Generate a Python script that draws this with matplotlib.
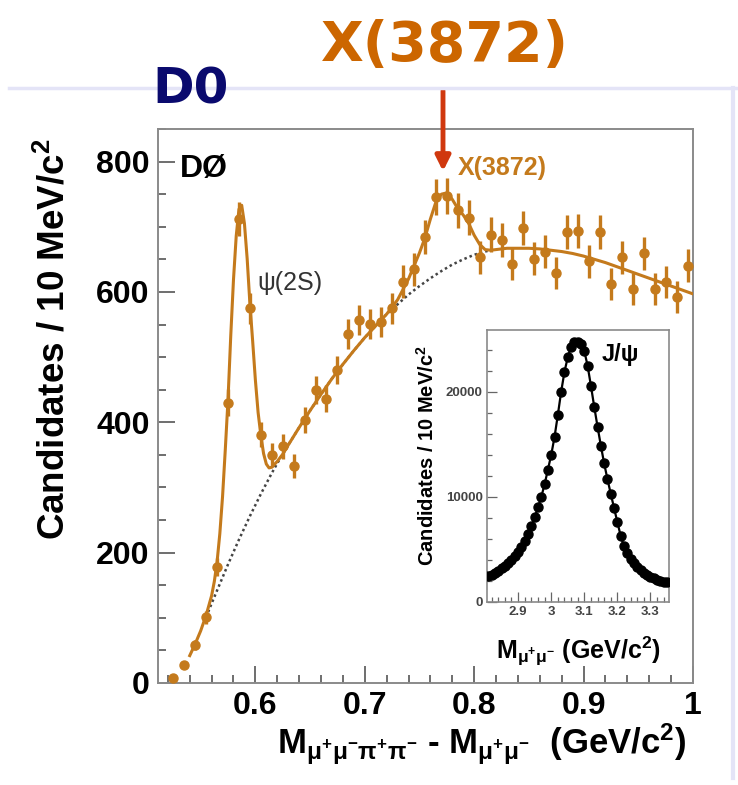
import numpy as np
import matplotlib
matplotlib.use("Agg")
import matplotlib.pyplot as plt
from matplotlib.ticker import MultipleLocator, FixedLocator
from matplotlib.patches import FancyArrowPatch
from matplotlib.lines import Line2D

plt.rcParams['font.family'] = ['Liberation Sans', 'DejaVu Sans']
plt.rcParams['mathtext.fontset'] = 'custom'
plt.rcParams['mathtext.rm'] = 'Liberation Sans'
plt.rcParams['mathtext.it'] = 'Liberation Sans:italic'
plt.rcParams['mathtext.bf'] = 'Liberation Sans:bold'
plt.rcParams['mathtext.default'] = 'regular'

# ---- main spectrum: M(mu mu pi pi) - M(mu mu), 10 MeV bins ----
bin_centers = np.round(np.arange(0.525, 1.0, 0.01), 3)
counts = [7, 28, 59, 101, 178, 430, 712, 575, 381, 350, 363, 333, 404, 450,
          436, 480, 536, 557, 551, 554, 575, 616, 635, 684, 746, 747, 725,
          714, 653, 688, 679, 643, 698, 651, 662, 629, 692, 693, 647, 692,
          612, 653, 604, 659, 604, 615, 592, 640]
# Poisson uncertainties on the bin contents
errors = np.sqrt(counts)

# fitted signal + background curve
fit_x = [0.540, 0.545, 0.550, 0.555, 0.560, 0.5625, 0.565, 0.5675, 0.570,
         0.5725, 0.575, 0.5775, 0.580, 0.5825, 0.585, 0.5875, 0.590, 0.5925,
         0.595, 0.5975, 0.600, 0.6025, 0.605, 0.6075, 0.610, 0.6125, 0.615,
         0.620, 0.625, 0.630, 0.640, 0.650, 0.660, 0.670, 0.680, 0.690,
         0.700, 0.710, 0.720, 0.730, 0.740, 0.745, 0.750, 0.755, 0.760,
         0.765, 0.770, 0.775, 0.780, 0.785, 0.790, 0.795, 0.800, 0.805,
         0.810, 0.815, 0.820, 0.830, 0.840, 0.850, 0.860, 0.870, 0.880,
         0.890, 0.900, 0.910, 0.920, 0.930, 0.940, 0.950, 0.960, 0.970,
         0.980, 0.990, 1.000]
fit_y = [42, 60, 80, 104, 134, 156, 186, 229, 286, 358, 435, 533, 619, 686,
         727, 733, 705, 651, 582, 525, 465, 415, 380, 352, 336, 330, 331,
         340, 351, 365, 392, 418, 443, 467, 489, 510, 530, 548, 566, 588,
         620, 640, 660, 683, 712, 738, 750, 752, 742, 728, 718, 705, 687,
         673, 665, 664, 665, 667, 667, 667, 666, 664, 662, 659, 655, 650,
         645, 639, 633, 627, 621, 615, 609, 603, 597]

# background component of the fit
bg_x = [0.555, 0.560, 0.565, 0.570, 0.575, 0.580, 0.585, 0.590, 0.595,
        0.600, 0.605, 0.610, 0.615, 0.620, 0.625, 0.630, 0.640, 0.650,
        0.660, 0.670, 0.680, 0.690, 0.700, 0.710, 0.720, 0.730, 0.740,
        0.750, 0.760, 0.770, 0.780, 0.790, 0.800, 0.810, 0.815]
bg_y = [101, 122, 142, 162, 182, 201, 220, 238, 256, 273, 290, 306, 322,
        337, 351, 365, 392, 418, 443, 467, 489, 510, 530, 548, 566, 581,
        596, 609, 621, 632, 642, 650, 657, 662, 664]

x_ticks = [0.6, 0.7, 0.8, 0.9, 1.0]
x_tick_labels = ['0.6', '0.7', '0.8', '0.9', '1']
y_ticks = [0, 200, 400, 600, 800]

# ---- inset: J/psi dimuon mass ----
jpsi_mass = np.round(np.arange(2.81, 3.355, 0.01), 3)
jpsi_counts = [2450, 2600, 2780, 2980, 3200, 3450, 3720, 4030, 4380, 4780,
               5250, 5800, 6450, 7200, 8050, 9000, 10000, 11200, 12600,
               14000, 15700, 17800, 20000, 21900, 23300, 24300, 24800,
               24800, 24600, 23900, 22500, 20600, 18600, 16700, 14900,
               13200, 11700, 10300, 8950, 7600, 6300, 5300, 4650, 4100,
               3700, 3350, 3050, 2800, 2600, 2420, 2270, 2140, 2030, 1950,
               1880]
inset_x_ticks = [2.9, 3.0, 3.1, 3.2, 3.3]
inset_x_labels = ['2.9', '3', '3.1', '3.2', '3.3']
inset_y_ticks = [0, 10000, 20000]

ORANGE = '#C47A1C'
FRAME = '#8a8a8a'

fig = plt.figure(figsize=(7.38, 7.85), dpi=100)
fig.patch.set_facecolor('white')

# slide border lines
fig.add_artist(Line2D([9 / 738, 1.0], [1 - 88 / 785, 1 - 88 / 785],
                      color='#E4E4F7', lw=2.5, transform=fig.transFigure))
fig.add_artist(Line2D([733 / 738, 733 / 738], [1 - 88 / 785, 1 - 778 / 785],
                      color='#E4E4F7', lw=3, transform=fig.transFigure))

ax = fig.add_axes([158 / 738, 1 - 683 / 785, (693 - 158) / 738, (683 - 129) / 785])
ax.set_xlim(0.511, 1.0)
ax.set_ylim(0, 850)

ax.errorbar(bin_centers, counts, yerr=errors, fmt='o', color=ORANGE,
            ms=6.5, elinewidth=2.4, capsize=0, zorder=4)
ax.plot(fit_x, fit_y, color=ORANGE, lw=2.2, zorder=3)
ax.plot(bg_x, bg_y, color='#444444', lw=1.8, ls=(0, (1, 1.2)), zorder=2)

for s in ax.spines.values():
    s.set_color(FRAME)
    s.set_linewidth(1.4)
ax.xaxis.set_major_locator(FixedLocator(x_ticks))
ax.set_xticklabels(x_tick_labels)
ax.xaxis.set_minor_locator(MultipleLocator(0.02))
ax.yaxis.set_major_locator(FixedLocator(y_ticks))
ax.yaxis.set_minor_locator(MultipleLocator(50))
ax.tick_params(which='both', direction='in', color='#555555', width=1.2,
               top=False, right=False)
ax.tick_params(which='major', length=12, labelsize=23, pad=6)
ax.tick_params(which='minor', length=6)
for lab in ax.get_xticklabels() + ax.get_yticklabels():
    lab.set_fontweight('bold')

ax.set_ylabel(r'Candidates / 10 MeV/c$^{\mathbf{2}}$', fontsize=26.5,
              fontweight='bold')
ax.yaxis.set_label_coords(-0.16, 0.62)
ax.set_xlabel(r'M$_{\mu^{+}\mu^{-}\pi^{+}\pi^{-}}$ - M$_{\mu^{+}\mu^{-}}$  (GeV/c$^{\mathbf{2}}$)',
              fontsize=25, fontweight='bold')
ax.xaxis.set_label_coords(0.605, -0.07)
ax.xaxis.label.set_horizontalalignment('center')

ax.text(0.04, 0.955, 'DØ', transform=ax.transAxes, fontsize=23,
        fontweight='bold', va='top', ha='left')
ax.text(0.602, 613, 'ψ(2S)', fontsize=18, color='#333333', va='center')
ax.text(0.785, 790, 'X(3872)', fontsize=18, color=ORANGE,
        fontweight='bold', va='center')

# inset
axi = fig.add_axes([487 / 738, 1 - 602 / 785, (669 - 487) / 738, (602 - 330) / 785])
axi.set_xlim(2.806, 3.356)
axi.set_ylim(0, 25900)
axi.plot(jpsi_mass, jpsi_counts, color='black', lw=1.6, zorder=2)
axi.plot(jpsi_mass, jpsi_counts, 'o', color='black', ms=6.5, zorder=3)
for s in axi.spines.values():
    s.set_color(FRAME)
    s.set_linewidth(1.2)
axi.xaxis.set_major_locator(FixedLocator(inset_x_ticks))
axi.set_xticklabels(inset_x_labels)
axi.xaxis.set_minor_locator(MultipleLocator(0.02))
axi.yaxis.set_major_locator(FixedLocator(inset_y_ticks))
axi.set_yticklabels(['0', '10000', '20000'])
axi.yaxis.set_minor_locator(MultipleLocator(2000))
axi.tick_params(which='both', direction='in', color='#666666', width=0.9,
                top=False, right=False)
axi.tick_params(which='major', length=7, labelsize=9.5, pad=3, labelcolor='#444444')
axi.tick_params(which='minor', length=3.5)
for lab in axi.get_xticklabels() + axi.get_yticklabels():
    lab.set_fontweight('bold')
axi.set_ylabel(r'Candidates / 10 MeV/c$^{\mathbf{2}}$', fontsize=14.5,
               fontweight='bold')
axi.yaxis.set_label_coords(-0.27, 0.54)
axi.set_xlabel(r'M$_{\mu^{+}\mu^{-}}$ (GeV/c$^{\mathbf{2}}$)', fontsize=18,
               fontweight='bold')
axi.xaxis.set_label_coords(0.5, -0.12)
axi.text(0.63, 0.91, 'J/ψ', transform=axi.transAxes, fontsize=17,
         fontweight='bold', va='center')

# slide headings
fig.text(191 / 738, 1 - 89 / 785, 'D0', color='#0A0A6E', fontsize=36,
         fontweight='bold', ha='center', va='center',
         family=['DejaVu Sans'])
fig.text(445 / 738, 1 - 46 / 785, 'X(3872)', color='#CC6600', fontsize=40,
         fontweight='bold', ha='center', va='center',
         family=['DejaVu Sans'])

# arrow pointing at the X(3872) peak
arrow = FancyArrowPatch((443 / 738, 1 - 88 / 785), (443 / 738, 1 - 174 / 785),
                        transform=fig.transFigure, arrowstyle='-|>',
                        mutation_scale=22, color='#D0380E', lw=3.5)
fig.add_artist(arrow)

fig.savefig('out.png', dpi=100, facecolor='white')
